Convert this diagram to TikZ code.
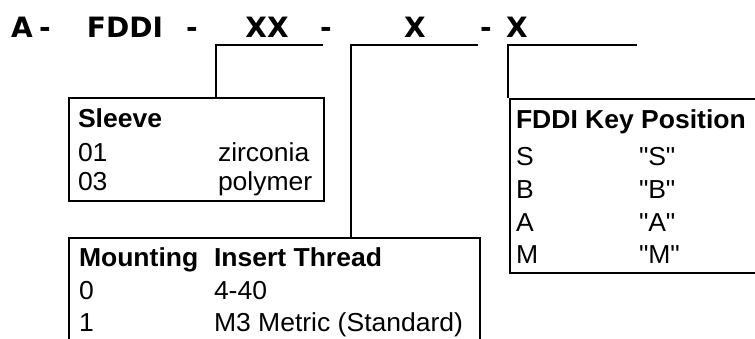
\documentclass[tikz,border=0pt]{standalone}
\usepackage{fontspec}
\setmainfont{Liberation Sans}[FakeStretch=1.02]
\newfontfamily\partfont{DejaVu Sans}
\usetikzlibrary{positioning}

\tikzset{
   partcode/.style={font=\partfont\bfseries\fontsize{28}{30}\selectfont,
      inner sep=0, anchor=base},
   codehead/.style={font=\bfseries\fontsize{26}{30}\selectfont,
      inner sep=0, anchor=base west},
   codeentry/.style={font=\fontsize{26}{30}\selectfont,
      inner sep=0, anchor=base west},
   keybox/.style={draw, inner sep=0, anchor=north west},
}

\begin{document}
\begin{tikzpicture}[x=1pt, y=-1pt, line width=2pt]
   \useasboundingbox (0,0) rectangle (755,338);
   \clip (0,0) rectangle (755,338);

   % part number
   \node[partcode] (pa) at (22,37) {A};
   \node[partcode] (d1) at (45,37) {-};
   \node[partcode] (fddi) at (125,37) {FDDI};
   \node[partcode] (d2) at (192,37) {-};
   \node[partcode] (sl) at (267,37) {XX};
   \node[partcode] (d3) at (326,37) {-};
   \node[partcode] (mt) at (415,37) {X};
   \node[partcode] (d4) at (486,37) {-};
   \node[partcode] (ky) at (517,37) {X};

   \coordinate (sll) at (216,45);
   \coordinate (slr) at (323,45);
   \coordinate (mtl) at (351,45);
   \coordinate (mtr) at (478,45);
   \coordinate (kyl) at (508,45);
   \coordinate (kyr) at (637,45);

   % tables
   \node[keybox, minimum width=255, minimum height=103] (sleeve) at (68,97) {};
   \node[keybox, minimum width=411, minimum height=150] (mount) at (68,237) {};
   \node[keybox, minimum width=300, minimum height=174] (key) at (509,98) {};

   \draw (slr) -- (sll) -- (sll |- sleeve.north);
   \draw (mtr) -- (mtl) -- (mtl |- mount.north);
   \draw (kyr) -- (kyl) -- (kyl |- key.north);

   \node[codehead] (sleevehd) at (77,127) {Sleeve};
   \node[codeentry] at (77,161) {01};
   \node[codeentry] at (217,161) {zirconia};
   \node[codeentry] at (77,190) {03};
   \node[codeentry] at (217,190) {polymer};

   \node[codehead] (mounthd) at (78,266) {Mounting};
   \node[codehead] (threadhd) at (213,266) {Insert Thread};
   \node[codeentry] at (78,299) {0};
   \node[codeentry] at (213,299) {4-40};
   \node[codeentry] at (78,331) {1};
   \node[codeentry] at (213,331) {M3 Metric (Standard)};

   \node[codehead] (keyhd) at (515,128) {FDDI Key Position};
   \node[codeentry] at (515,165) {S};
   \node[codeentry] at (638,165) {\textquotedbl S\textquotedbl};
   \node[codeentry] at (515,198) {B};
   \node[codeentry] at (638,198) {\textquotedbl B\textquotedbl};
   \node[codeentry] at (515,231) {A};
   \node[codeentry] at (638,231) {\textquotedbl A\textquotedbl};
   \node[codeentry] at (515,263) {M};
   \node[codeentry] at (638,263) {\textquotedbl M\textquotedbl};
\end{tikzpicture}
\end{document}
